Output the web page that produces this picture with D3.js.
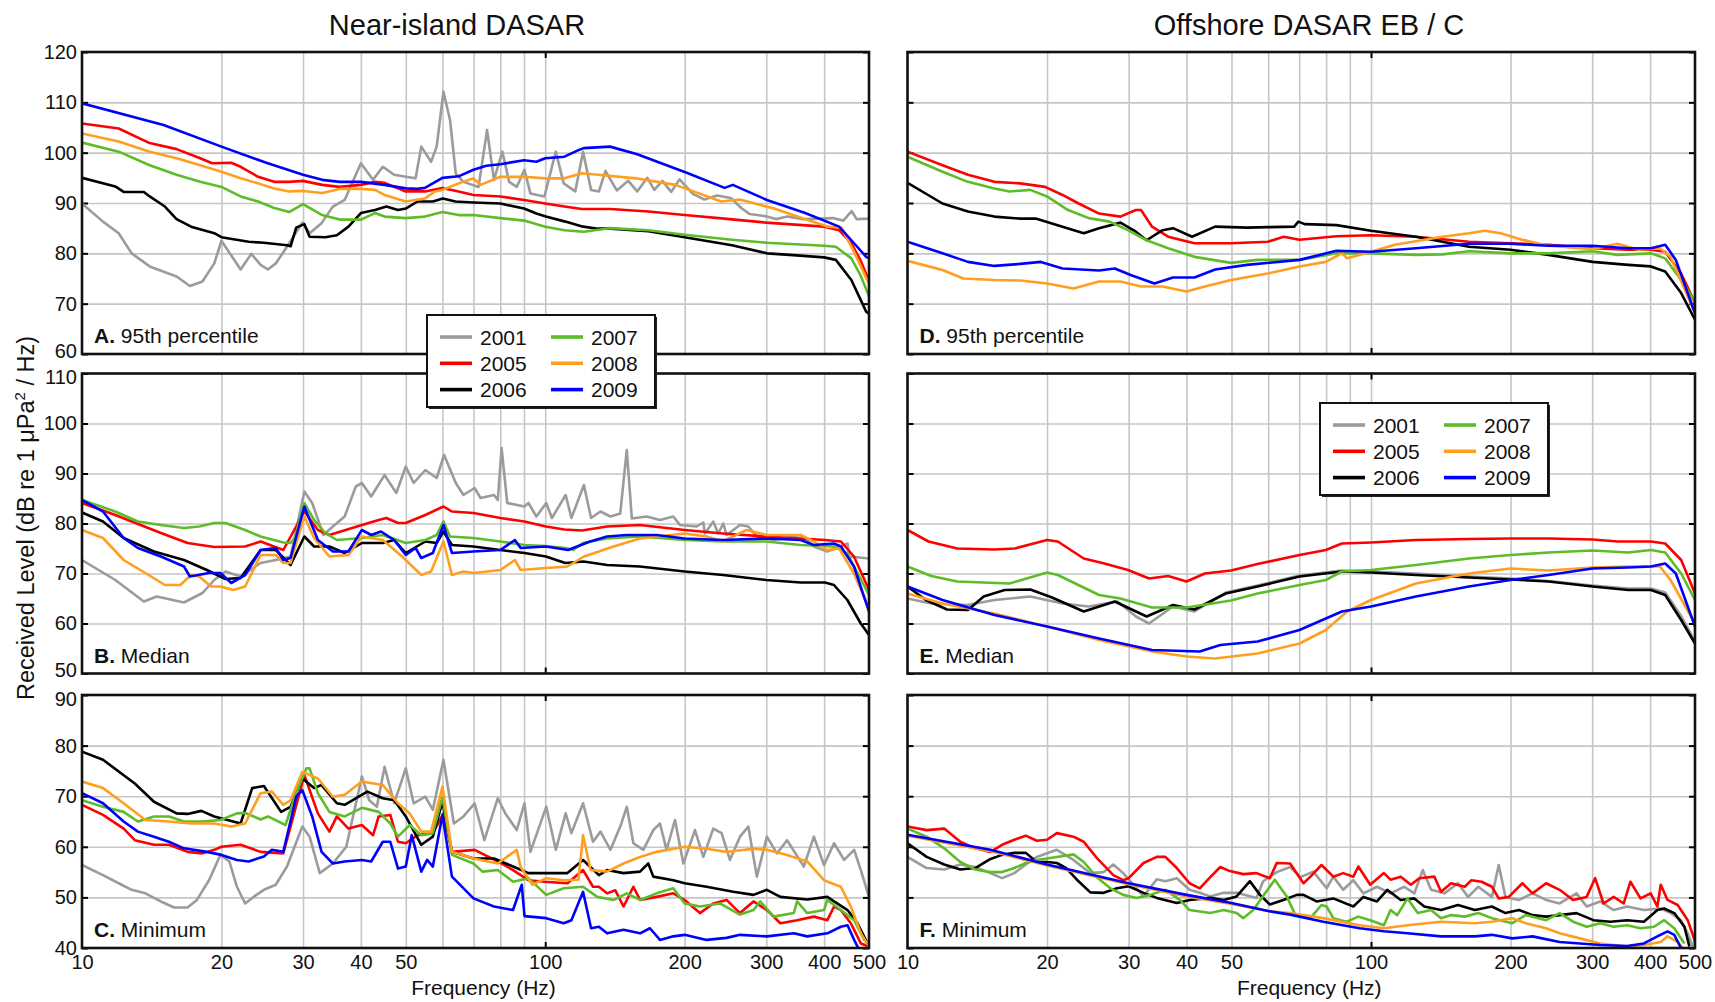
<!DOCTYPE html>
<html>
<head>
<meta charset="utf-8">
<script src="https://cdn.jsdelivr.net/npm/d3@7"></script>
<style>
body { margin: 0; background: #fff; }
svg { display: block; font-family: "Liberation Sans", Arial, sans-serif; }
</style>
</head>
<body>
<svg id="chart" width="1715" height="1002"></svg>
<script>
// ---- data: [frequency Hz, received level dB] ----

// A. near-island, 95th percentile
var A_2001 = [[10,89.9],[11.1,86.3],[12,84],[12.8,80],[14,77.4],[16,75.4],[17.1,73.5],[18.2,74.4],[19.3,78],[20,82.5],[22,76.8],[23.2,79.9],[24.3,77.7],[25.2,76.8],[26.2,78],[27.7,81.3],[29.9,86.1],[31,84],[32.9,86],[34.8,89.3],[36.9,90.6],[40,97.9],[42.5,94.6],[44.6,97.2],[47.2,95.6],[50,95.2],[52.5,94.9],[54,101.2],[56.7,98.2],[58.3,101.2],[60.3,112.1],[62.3,106.5],[64.1,95.9],[66.6,94.2],[71.8,93.2],[74.9,104.5],[77.5,94.6],[80.8,100.2],[83.6,94.2],[86.8,93.2],[90.2,96.6],[92.9,91.9],[99.6,91.3],[105.4,100.2],[109.6,93.9],[116.1,92.3],[120.7,100.2],[125.6,92.6],[130.6,92.3],[134.9,96.4],[142.7,92.5],[151.1,94.4],[158,92.3],[166.1,95],[172,92.6],[179.1,94.4],[187,92.2],[195,94.7],[208.3,91.8],[220.5,90.7],[235,91.5],[251.5,91],[265,89],[276.4,87.8],[298,87.4],[315,86.8],[333.3,87.3],[360,86.8],[394.6,86.9],[417.7,87],[440,86.5],[458.6,88.4],[470,86.8],[500,86.9]];
var A_2005 = [[10,105.8],[12,104.8],[14,101.9],[16,100.7],[18,98.9],[19.1,97.9],[21,98],[22,97.2],[24,95.2],[26,94.2],[28,94.2],[30,94.4],[33,93.6],[36,93.2],[40,93.6],[42.9,94.2],[45,94],[50,92.3],[55,92.3],[60,93],[65,92.3],[70,91.6],[80,91.3],[90,90.6],[100,89.9],[110,89.3],[120,88.8],[138,88.8],[167,88.3],[200,87.6],[250,86.8],[300,86.1],[400,85.3],[431,84.6],[458,82],[480,78.5],[500,74.5]];
var A_2006 = [[10,95],[11.8,93.3],[12.3,92.2],[13.6,92.2],[14,91.3],[15.1,89.3],[16,86.8],[17.2,85.3],[19.3,84],[20,83.2],[22.9,82.3],[24.7,82.1],[27.7,81.6],[28.2,81.4],[29,85.1],[30.2,85.8],[31,83.3],[33.5,83.2],[35.5,83.6],[37.6,85.3],[40,88],[42.9,88.6],[45.4,89.3],[48.1,88.6],[50,88.9],[53,90.3],[57.2,90.3],[60.1,90.9],[64,90.3],[70,90.1],[80,89.9],[90,88.9],[95.7,87.9],[100.3,87.3],[110.5,86.3],[120.7,85.3],[130,84.9],[138,84.9],[167,84.4],[200,83.2],[253,81.6],[301,80],[337,79.7],[400,79.2],[424,78.7],[458,74.7],[480,70.7],[493,68.4],[500,68]];
var A_2007 = [[10,102],[12,100.2],[14,97.5],[16,95.6],[18,94.2],[20,93.2],[22,91.3],[24,90.3],[26,89],[28,88.2],[30,89.8],[33,87.6],[36,86.7],[40,86.7],[42.9,88],[45,87.3],[50,87],[55,87.3],[60,88.2],[65,87.6],[70,87.6],[80,87],[90,86.5],[100,85.3],[110,84.6],[121,84.3],[138,85],[167,84.6],[200,83.7],[253,82.7],[301,82.1],[400,81.5],[424,81.3],[458,79],[480,75.5],[500,71.5]];
var A_2008 = [[10,103.8],[12,102.2],[14,100.2],[16,98.9],[18,97.5],[20,96.2],[22,94.9],[24,93.9],[26,92.9],[28,92.3],[30,92.4],[33,92],[36,92.8],[40,92.8],[42.9,92.6],[45,91.6],[50,90.3],[55,90.9],[57.8,92.3],[60,92.6],[65,93.9],[70,94.9],[72.5,93.6],[80,95.2],[90,95.2],[100,94.9],[110,94.9],[120,95.9],[130,95.6],[157,94.9],[191,93.6],[240,90.3],[263,90.7],[312,88.9],[350,87.3],[408,85.3],[436,85.1],[466,80],[493,75.1],[500,74]];
var A_2009 = [[10,109.8],[15,105.5],[20,101.2],[25,98],[30,95.6],[33,94.6],[36,94.2],[40,94.2],[45,93.6],[50,92.9],[53,92.8],[55,93],[60,95],[65,95.3],[70,96.6],[74.6,97.4],[80,97.7],[90,98.5],[95.7,98.2],[100,98.9],[110,99.2],[118,100.5],[121,100.9],[138,101.2],[158,99.7],[202,96],[244,93],[254,93.6],[301,90.6],[364,88],[431,85.3],[458,82.6],[493,79.3],[500,79]];

// B. near-island, median
var B_2001 = [[10,72.7],[11.8,68.7],[13.6,64.4],[14.5,65.4],[16.6,64.2],[18.2,66.1],[19.3,68.7],[20.4,70.4],[22,69.4],[24.3,72.1],[26.2,72.7],[28.2,73.4],[30.2,86.4],[31.4,84.1],[33.2,77.7],[34.8,79.4],[36.9,81.4],[39,87.4],[40.2,88.1],[42.1,85.4],[45,89.7],[47.7,86.1],[50,91.4],[52,88.1],[55.1,90.7],[58.3,89.1],[60.5,93.7],[64.1,88.1],[66.6,85.7],[70.4,87.1],[72.5,85.1],[77.5,85.7],[79,84.7],[80.5,95.1],[82.8,84.1],[90.2,83.4],[92,84.1],[95.7,81.4],[100.5,84.1],[103.4,81.1],[110.7,85.7],[113.9,81.1],[121.2,87.7],[125.6,81.1],[131.6,82.4],[138.3,81.4],[145.2,82],[150,94.7],[153.8,81],[165.6,81.4],[176.9,80.7],[189,81.4],[195.4,79.7],[212.2,79.4],[219.4,80.2],[221.2,78],[230.6,80.4],[236.3,78],[242.3,80],[246.3,77.7],[263.3,79.7],[274.5,79.4],[286.3,77.4],[311.2,76.7],[355.7,77.7],[380.2,75.4],[406.5,74.4],[449.4,76],[453.1,73.4],[500,73]];
var B_2005 = [[10,84.1],[11.8,81.7],[14.8,78.1],[16.9,76.1],[19.3,75.3],[22.5,75.4],[24.3,76.4],[27.2,74.7],[30.2,82.4],[32.3,78.7],[34.2,77.7],[40.2,79.7],[43.7,80.7],[45.4,81.1],[48.1,80.1],[50,80.1],[55.1,81.7],[60.3,83.4],[62.9,82.4],[70,82.1],[80,81.1],[90.2,80.4],[100.3,79.4],[110,78.8],[120,78.6],[136,79.4],[160,79.7],[200,78.7],[242,78],[300,77.4],[356,77],[402,76.7],[435,76.4],[464,73.4],[500,66.7]];
var B_2006 = [[10,82.2],[11.1,80.4],[12.3,77.1],[14.3,74.4],[16.6,72.7],[18.6,70.7],[20.4,68.9],[22,69.1],[24.3,74.7],[26.2,74.7],[28.2,71.7],[30.2,77.4],[31.7,75.4],[34.2,75.4],[36.9,74.1],[40.2,76.1],[44.6,76.1],[47.2,76.7],[50,74.1],[55.1,76.4],[58.3,76.1],[60.3,78.4],[62.9,75.7],[70,75.4],[80,74.7],[90.2,74.1],[100.3,73.4],[110.5,72.1],[121,72.4],[136,71.7],[160,71.4],[200,70.4],[242,69.7],[300,68.7],[356,68.2],[402,68.2],[420,67.7],[449,64.7],[480,60],[500,57.7]];
var B_2007 = [[10,84.7],[11.8,82.4],[13.2,80.4],[14.8,79.7],[16.6,79.1],[17.9,79.4],[19.3,80.1],[20.4,80.1],[22.5,78.7],[24.3,77.4],[27.2,76.2],[28.2,76.1],[28.8,77.1],[30.2,84.1],[31.7,80.7],[33.5,78.1],[35.5,76.7],[40.2,77.1],[44.6,77.7],[50,76.1],[55.1,76.7],[58.3,77.7],[60.3,80.4],[62.3,77.4],[70,77.1],[80,76.4],[90.2,75.7],[100.3,75.5],[110.5,75.1],[115,74.7],[120.7,76.1],[136,77],[160,77.4],[200,76.7],[242,76.4],[300,76.4],[356,75.7],[420,75.4],[449,74],[500,65.7]];
var B_2008 = [[10,78.7],[11.1,77.1],[12.3,72.7],[13.7,70.1],[15.1,67.7],[16.3,67.7],[17.2,69.7],[17.9,69.4],[19,67.4],[19.9,67.4],[21.2,66.7],[22.5,67.4],[24.3,73.7],[26.2,73.7],[27.2,72.1],[28.2,72.1],[30.2,81.4],[31.7,77.1],[34.2,73.4],[37.6,73.7],[40.2,77.4],[44.6,76.7],[49.1,73.4],[54,69.7],[56.7,70.4],[60.3,76.4],[62.9,69.7],[66.6,70.4],[70,70.1],[80,70.7],[86,72.7],[88.5,70.7],[100.3,71.1],[111.7,71.4],[121.2,73.4],[130.6,74.4],[136,75],[160,77],[200,78],[223,77.4],[242,76.4],[272,78.7],[301,77.7],[356,77.7],[380,76.4],[406,74.7],[431,75],[464,70],[500,63]];
var B_2009 = [[10,84.7],[11.1,82.4],[12.3,77.1],[13.2,75.1],[14.8,73.4],[16.6,71.4],[17.1,69.4],[18.8,70.1],[19.9,70.1],[21,68.1],[22.5,69.7],[24.3,74.7],[26.2,75.1],[27.2,72.7],[28.2,73.1],[30.2,83.4],[32.3,76.7],[34.8,74.4],[37.6,74.4],[40.2,78.7],[42.1,77.7],[44.2,78.4],[47.2,76.7],[50,73.7],[52.5,75.1],[54,73.1],[57.2,74.1],[60.3,79.7],[62.9,74.1],[70,74.4],[80,74.7],[86,76.7],[88.5,75.1],[100.3,75.4],[112,74.7],[125,76.4],[136,77.4],[150,77.7],[174,77.7],[200,77],[242,76.7],[300,77],[356,76.7],[380,75.7],[420,76],[435,75.4],[464,71.4],[500,62.4]];

// C. near-island, minimum
var C_2001 = [[10,56.4],[11.1,54.4],[12,52.8],[12.8,51.5],[13.7,50.8],[14.8,49.2],[15.8,48],[16.9,48],[17.7,49.5],[18.8,53.4],[19.9,58.4],[20.8,57.1],[21.6,52.1],[22.5,48.8],[23.8,50.5],[24.7,51.5],[26.2,52.5],[27.7,56.1],[29.9,64],[31,62],[32.6,54.8],[34.8,56.7],[37.2,60],[40.2,73.9],[41.7,69.2],[43.3,67.9],[45,75.8],[47.2,68.6],[50,75.5],[52,68.6],[55.1,69.9],[57.2,67.3],[60.3,77.2],[63.5,64.6],[66.6,66],[70.4,68.6],[73.9,61.3],[79,69.6],[82,66.6],[86.8,63.3],[90.2,68.6],[92.9,59],[100.5,67.9],[105.4,59.4],[110.7,66.6],[113.9,62.7],[120.7,68.6],[126.8,61],[131.6,63],[138.3,59.4],[145.2,64],[150,67.9],[155,60.7],[162.9,59.4],[171.1,63.3],[176.9,64.6],[182.8,59.4],[190.6,65.3],[198.7,56.7],[210.5,63.3],[219.4,58],[230.6,63.6],[240.3,62.7],[250.4,57.4],[263.3,62],[274.5,64],[286.3,54.1],[301,62],[316.4,58.7],[332.7,61.3],[361.6,56.1],[380.2,62],[399.8,56.4],[420.3,60.7],[442,57.4],[464.4,59.4],[480.1,55.4],[500,50.1]];
var C_2005 = [[10,68.3],[11.1,66.3],[12.3,63.6],[13,61.3],[14.3,60.4],[15.4,60.4],[16.9,59],[18.2,58.7],[19.3,59.4],[20,60],[22,60.4],[24.3,59],[27.2,58.7],[28.2,64],[30.2,74.2],[32.3,66.6],[34.2,63],[35.5,66],[37.6,63.6],[40.2,64.3],[42.5,62.3],[43.7,66],[46.3,66.3],[48.1,61],[50,60.7],[53,62.3],[57.2,62.7],[60.3,66.6],[62.9,59],[70.4,59.4],[79,57.1],[85.2,55.4],[92,53.4],[99.6,53.1],[111.7,52.8],[120.7,55.4],[126.8,52.1],[130.5,52.1],[136,50.8],[141.7,51.4],[147.6,48.2],[155,52.1],[160.2,49.5],[174,50.1],[189,50.8],[200,49.5],[215.8,46.9],[230.6,48.8],[246.3,49.5],[263.3,46.9],[281.6,49.2],[301,47.5],[321.8,44.9],[349.8,45.5],[380.2,46.2],[406.5,45.5],[420.3,48.2],[434.6,47.5],[456.8,44.9],[480.1,40.9],[500,40.3]];
var C_2006 = [[10,78.8],[11.1,77.2],[13,72.5],[14.3,68.9],[16,66.6],[16.9,66.5],[18.1,67.1],[19.3,66],[20.8,65.2],[22,64.6],[23.3,71.6],[24.7,72],[26.9,66.9],[28.2,67.9],[29.9,73.5],[31.7,71.6],[32.9,72.2],[35.5,68.6],[36.9,68.3],[41.3,70.9],[44.6,69.6],[47.2,69.2],[50,66],[54,60.4],[57.2,62],[60,68.9],[62.9,59],[70,57.7],[77.5,57.7],[85.2,56.1],[92,54.8],[99.6,54.8],[111.7,54.8],[120.7,57.4],[130.6,54.4],[136,55.4],[147.6,54.8],[160.2,55.1],[166.9,56.7],[171.1,54.1],[189,53.4],[200,52.8],[223,52.1],[254.6,51.1],[281.6,50.5],[301,51.5],[321.8,50.1],[367.7,49.6],[406.5,50.1],[420.3,49.2],[449.4,47.5],[472.2,44.9],[500,40.3]];
var C_2007 = [[10,69.2],[11.1,67.9],[12.3,66.9],[13.2,65],[14.3,66],[15.4,66],[16.6,65],[18.2,65],[19.9,65.3],[21.6,66.6],[22.5,66.7],[24.3,65.4],[25.2,66],[27.5,64.3],[28.8,69.9],[30.5,75.5],[31,75.5],[32.3,70.6],[34.2,66.9],[36.9,66],[40.2,67.7],[43.7,66.9],[46.3,64.6],[48.1,62],[51,64.3],[54,62.3],[57.2,62.7],[60,69.9],[62.9,58.4],[70,56.7],[73.2,55.1],[79,55.4],[85.2,53.1],[92,53.8],[100.5,50.5],[109.6,51.8],[120.7,52.1],[129.5,50.1],[140.6,49.5],[150,50.8],[160.2,49.5],[174,50.8],[189,51.8],[200,48.8],[215.8,48.2],[238.3,48.8],[263.3,46.6],[281.6,47.5],[291.1,49.2],[311.2,46.2],[344,46.9],[349.8,49.2],[367.7,46.9],[399.8,47.5],[406.5,49.5],[434.6,47.5],[464.4,45.5],[488.2,41.6],[500,40.6]];
var C_2008 = [[10,72.9],[11.1,71.6],[12.3,68.6],[13.7,65.3],[15.4,65],[17.2,64.6],[19.3,64.6],[21,64],[22.5,64.6],[24.3,70.6],[25.7,70.9],[27.2,68.3],[28.2,69.2],[29.9,74.8],[32.3,73.5],[34.8,69.9],[36.9,70.3],[40.2,72.9],[44.6,72.2],[48.1,68.6],[51,66.6],[54,63],[56.7,63],[60,71.9],[62.9,59],[70,57.7],[79,56.7],[86.8,59.4],[88.5,56],[93.8,52.5],[100.5,53.8],[109.6,53.4],[118,53.5],[120.7,62.3],[125.3,55.4],[136,55.1],[147.6,56.7],[160.2,58],[174,59],[200,60],[223,59.6],[246.3,59],[281.6,59.6],[301,59.4],[332.7,58.4],[367.7,57.1],[399.8,53.4],[434.6,52.1],[456.8,48.2],[480.1,42.9],[500,40.3]];
var C_2009 = [[10,70.6],[11.1,68.6],[12.3,65],[13.2,63],[14.3,62],[15.4,61],[16.6,59.7],[18.6,59],[20,58.4],[21.6,57.4],[22.9,57.1],[24.7,58.1],[25.7,59.4],[27.2,59],[29,69.9],[29.9,71.2],[31.4,66],[32.9,59],[34.8,56.7],[36.9,57.1],[40.2,57.4],[42.1,57.1],[44.6,61],[46.3,61],[48.1,55.7],[50,56.1],[51.5,62.3],[54,55.1],[55.6,57.4],[57.2,56.1],[60,66.3],[62.9,54.1],[70,49.8],[77.5,48.2],[85.2,47.5],[89,52.5],[90.2,46.3],[100.5,45.9],[109.6,44.9],[113.9,45.5],[120.7,51.1],[125.6,43.9],[130.6,44.2],[136,42.9],[147.6,43.6],[160.2,42.9],[168.3,43.9],[176.9,41.6],[189,42.3],[200,42.6],[223,41.6],[246.3,42],[263.3,42.6],[301,42.3],[344,42.9],[367.7,42.3],[406.5,42.9],[434.6,44.2],[449.4,44.5],[464.4,41.6],[476.2,39.6]];

// D. offshore, 95th percentile (no 2001 record)
var D_2005 = [[10,100.2],[11.9,97.5],[13.5,95.6],[15.4,94.2],[17.5,93.9],[19.8,93.2],[21.6,91.6],[23.4,89.9],[25.9,87.9],[28.8,87.3],[31.1,88.6],[31.9,88.6],[33.7,85.3],[36.5,83.3],[41.6,82],[49.9,82],[59.9,82.3],[64.8,83.3],[70.1,82.7],[84.2,83.4],[100,83.6],[125,83.3],[162.7,82.3],[200,82],[241.5,81.7],[300.6,81],[358.7,80.7],[401.6,80.7],[431.2,80.3],[466.8,76],[500,70.1]];
var D_2006 = [[10,94],[11.9,89.9],[13.5,88.3],[15.4,87.3],[17.5,86.9],[18.9,86.9],[21.6,85.3],[24,84],[25.9,85],[28.8,86.1],[31.1,84.3],[32.8,82.6],[35.5,84.6],[37.4,85],[41.1,83.3],[46.1,85.3],[54,85.1],[59.9,85.2],[68.3,85.3],[69.7,86.3],[71.9,85.8],[84.2,85.6],[100,84.5],[125,83.3],[162.7,81.3],[200,80.7],[241.5,79.7],[300.6,78.3],[358.7,77.7],[401.6,77.4],[431.2,76.4],[466.8,72.1],[500,66.8]];
var D_2007 = [[10,99.2],[11.9,96.2],[13.5,94.2],[15.4,92.9],[16.6,92.3],[18.4,92.6],[20,91.3],[22.2,88.6],[24.6,87],[27.3,86.3],[29.9,84.6],[32.8,82.6],[36.5,81],[41.6,79.3],[49.9,78.1],[56.9,78.7],[70.1,78.7],[84.2,80],[100,80],[125,79.7],[142.6,79.8],[162.7,80.4],[200,80],[241.5,80],[300.6,80.4],[340.3,79.7],[401.6,80],[431.2,79],[466.8,74.7],[500,70.4]];
var D_2008 = [[10,78.5],[11.9,76.7],[13.2,75],[15.4,74.7],[17.5,74.6],[20,74],[22.8,73],[25.9,74.4],[28.8,74.4],[31.9,73.4],[35.5,73.4],[40,72.4],[43.8,73.4],[49.9,74.7],[59.9,76],[70.1,77.4],[79.9,78.3],[86.5,80],[88.8,79],[100,80.3],[112.6,81.7],[142.6,83.3],[162.7,84],[176,84.5],[190.4,84],[211.7,82.7],[241.5,81.5],[300.6,80.8],[340.3,81.9],[378.1,80.7],[420.1,81],[442.8,79.3],[500,68.1]];
var D_2009 = [[10,82.3],[11.9,80],[13.5,78.3],[15.4,77.5],[17.5,77.9],[19.4,78.3],[21.6,77],[25.9,76.6],[28,77],[30.3,75.7],[34.1,74],[37.4,75.2],[41.6,75.2],[46.1,76.8],[54,77.7],[70.1,78.7],[84.2,80.5],[100,80.3],[125,81],[162.7,81.9],[200,81.9],[241.5,81.5],[300.6,81.5],[358.7,81],[401.6,81],[431.2,81.7],[454.6,78.7],[500,68.1]];

// E. offshore, median
var E_2001 = [[10,65],[11.25,64],[13.5,63.7],[15.4,64.7],[18.4,65.4],[21.6,64],[24.6,63.4],[28.4,64.4],[31.1,61.4],[33.2,60],[37.4,63.4],[41.6,62.4],[48.6,66.2],[56.9,67.6],[70.1,69.6],[86.5,70.6],[100,70.4],[125,70],[162.7,69.4],[200,69],[241.5,68.5],[300.6,67.6],[358.7,67],[401.6,67],[431.2,66.2],[466.8,61.5],[500,56.4]];
var E_2005 = [[10,78.7],[11.1,76.4],[12.8,75],[15.4,74.8],[17.05,75],[20,76.7],[21.1,76.4],[24,73],[26.6,72],[29.9,70.7],[33.2,69],[36.5,69.5],[40,68.4],[43.8,70],[49.9,70.6],[56.9,71.9],[70.1,73.7],[79.9,74.7],[86.5,76],[100,76.2],[125,76.7],[162.7,76.9],[200,77],[241.5,77],[300.6,76.8],[340.3,76.4],[401.6,76.4],[431.2,76],[466.8,72.7],[500,66]];
var E_2006 = [[10,67.4],[10.96,64.7],[12.17,62.8],[13.5,62.7],[14.6,65.4],[16.2,66.7],[18.4,66.8],[20.5,65.2],[24,62.4],[28,64.4],[32.8,61.4],[37.4,63.7],[41.6,62.8],[48.6,66],[56.9,67.4],[70.1,69.4],[86.5,70.4],[100,70.2],[125,69.7],[162.7,69.2],[200,68.8],[241.5,68.4],[300.6,67.4],[358.7,66.7],[401.6,66.7],[431.2,65.7],[466.8,60.7],[500,56]];
var E_2007 = [[10,71.4],[11.25,69.5],[12.8,68.4],[16.6,68],[20,70.2],[21.1,69.7],[25.9,65.7],[28.8,65],[33.7,63.2],[40,63.2],[49.9,64.6],[56.9,66],[70.1,67.7],[79.9,68.7],[86.5,70.4],[100,70.7],[125,71.7],[162.7,73],[200,73.7],[241.5,74.2],[300.6,74.6],[358.7,74.2],[401.6,74.7],[431.2,74.2],[466.8,70],[500,64.7]];
var E_2008 = [[10,66],[11.9,64],[15.4,62],[20,59.4],[25.9,56.7],[33.7,54.4],[40,53.4],[46.1,53],[56.9,54],[70.1,56],[79.9,58.7],[88.8,62.4],[100,64.7],[125,68],[162.7,70],[200,71],[241.5,70.6],[300.6,71.2],[358.7,71.4],[420.1,71.4],[442.8,68.7],[500,60]];
var E_2009 = [[10,67.4],[11.9,64.7],[15.4,61.7],[20,59.4],[25.9,57],[33.7,54.7],[42.7,54.4],[47.3,55.7],[56.9,56.4],[70.1,58.7],[86.5,62.4],[100,63.4],[125,65.4],[162.7,67.4],[200,68.7],[241.5,69.7],[300.6,71],[358.7,71.2],[401.6,71.4],[431.2,72],[454.6,70],[500,59.4]];

// F. offshore, minimum
var F_2001 = [[10,58],[11,55.8],[12,55.5],[13,56.5],[14,56],[15.1,54.8],[16,53.8],[17,54.8],[18,56.5],[19,58],[21,59.4],[22.8,57.4],[24.8,54.8],[26.5,55],[27.8,56.5],[29.2,54.8],[32.3,50.2],[34.5,53.6],[36,53.2],[38.1,53.8],[40.6,51.5],[42.7,50.9],[45,50.2],[48.1,50.9],[51.3,50.9],[56.6,49.9],[58.5,53.2],[62.6,55],[66.9,56],[70.4,54],[75.1,55.1],[80.2,51.8],[82.9,54.1],[87.1,51.5],[91.6,53.4],[96.3,50.8],[103,52.1],[110.2,50.8],[117.9,52.1],[124,50.8],[129.3,55.4],[134.8,51.5],[144,50.8],[154,52.8],[162,50.1],[170.4,52.1],[182.3,50.1],[188.6,56.4],[195,50.1],[208.6,49.5],[223.1,50.8],[238.6,49.5],[255.2,48.8],[277.5,50.8],[291.9,48.2],[312.2,49.2],[333.8,47.5],[356.8,48.2],[387.9,47.5],[421.8,47.8],[443.6,46.9],[466.4,45.5],[482.3,42.9],[494.6,40.3]];
var F_2005 = [[10,64],[11,63.3],[12,63.6],[13,61],[14,59.7],[15.1,59],[16,60.4],[17,61.4],[18,62.2],[19,61.2],[20,61.4],[21,62.7],[22.8,62],[24,61],[25.6,57.8],[27.8,54.4],[29.2,53.4],[30,53.8],[32.3,56.8],[34.5,58],[36,58],[38.1,55.8],[40.6,52.8],[42.7,51.8],[45,54],[47.3,56],[49.6,55.2],[53,54.6],[56.6,54.8],[60.5,53.8],[62.6,56.8],[66.9,56.7],[71.5,52.8],[74,54.1],[78.2,56.4],[82.9,54.1],[87.1,54.8],[91.6,54.1],[93.9,56.1],[99.6,52.5],[106.6,54.8],[110.2,53.5],[115.9,54.1],[121.9,52.5],[127.1,53.8],[137,54.1],[141.6,51.1],[148.9,52.8],[159.3,52.1],[164.7,53.4],[173.3,53.1],[182.3,52.1],[188.6,49.8],[198.3,50.1],[212.1,52.8],[223.1,50.8],[238.6,52.8],[255.2,51.5],[272.9,49.5],[291.9,50.1],[304.4,53.8],[317.4,48.8],[333.8,50.1],[350.9,48.8],[362.8,53.1],[381.4,49.8],[401.1,50.8],[414.8,48.2],[421.8,52.5],[436.2,49.5],[458.7,48.5],[482.3,45.5],[498.7,41.6],[500,40.9]];
var F_2006 = [[10,60.7],[11,58],[12,56.5],[13,55.5],[14,55.8],[15.1,57.6],[16,58.4],[17,58.8],[18,58.8],[19,57],[20,57],[21,56.8],[22,55.8],[23.2,53.5],[24.8,51],[26.5,50.9],[28.3,51.8],[30,52.2],[32.3,50.9],[34.5,49.9],[38.1,48.9],[40.6,49.5],[45,49.9],[48.1,49.5],[51.3,50.2],[54.8,53.2],[57.6,50.5],[60.5,48.6],[64.7,49.5],[69.2,50.5],[71.5,50.5],[76.3,49.2],[82.9,49.8],[91.6,48.2],[96.3,50.1],[103,49.2],[108.4,51.5],[115.9,49.5],[124,49.8],[130.3,48.2],[141.6,47.5],[154,48.5],[167.5,47.5],[182.3,48.2],[195,46.9],[208.6,47.5],[223.1,46.5],[238.6,46.2],[255.2,46.5],[277.5,46.9],[301.9,45.5],[328.3,45.2],[356.8,45.5],[387.9,45.2],[414.8,47.5],[428.9,47.8],[451.1,46.9],[474.3,44.2],[486.3,40.3]];
var F_2007 = [[10,63.6],[11,62],[12,59.7],[13,57],[14,55.5],[15.1,55],[16,55],[17,55.8],[18,56.8],[19,57.4],[21,58],[22.8,58.5],[24,57],[25.6,54],[27.4,51.8],[29.2,50.5],[31.2,49.9],[33.4,50.5],[36,51.5],[38.7,49.5],[40.6,47.5],[45,46.9],[48.1,47.5],[51.3,46.9],[53,45.9],[55.7,47.5],[62,53.5],[65.8,50.2],[68.6,46.6],[71.5,46.2],[74,45.9],[78.2,48.5],[80.2,48.2],[82.9,45.9],[88.5,45.2],[93.9,46.2],[99.6,45.5],[106.6,44.5],[110.2,47.5],[113.9,46.5],[119.9,49.8],[126.1,46.9],[134.8,47.5],[141.6,45.9],[148.9,46.5],[159.3,46.2],[170.4,46.9],[182.3,45.9],[201.7,44.9],[215.7,46.5],[238.6,45.5],[255.2,46.9],[272.9,45.2],[291.9,44.2],[312.2,44.9],[333.8,44.2],[356.8,44.5],[381.4,43.9],[407.9,44.2],[428.9,45.5],[451.1,43.9],[474.3,40.9]];
var F_2008 = [[10,62.2],[15,59.2],[20,56.3],[30,52.6],[40,50.2],[50,48.7],[60,47.3],[66.9,46.9],[78.9,45.9],[94.5,44.5],[106.6,43.9],[119.9,44.5],[141.6,45.2],[167.5,44.9],[182.3,45.2],[201.7,45.9],[215.7,44.9],[238.6,43.9],[255.2,42.9],[282.2,41.9],[312.2,40.9],[356.8,40.3],[387.9,40.6],[421.8,41.2],[436.2,42.3],[458.7,41.2],[470.3,40]];
var F_2009 = [[10,62.4],[15.1,59.4],[20,56.5],[30,52.8],[40,50.5],[50,48.9],[60,47.3],[66.9,46.6],[78.9,45.2],[94.5,43.9],[106.6,43.3],[119.9,42.9],[141.6,42.3],[167.5,42.3],[182.3,42.6],[201.7,41.9],[223.1,42.3],[255.2,41.2],[282.2,40.9],[312.2,40.6],[356.8,40.4],[387.9,40.9],[414.8,42.3],[436.2,43.3],[451.1,42.6],[466.4,40]];

// axes and labels
var YEARS = ['2001', '2005', '2006', '2007', '2008', '2009'];
var YEAR_COLORS = ['#9b9b9b', '#ff0000', '#000000', '#5ebc29', '#ff9e1f', '#0000ff'];
var X_TICKS = [10, 20, 30, 40, 50, 100, 200, 300, 400, 500];
var X_GRID = [20, 30, 40, 50, 60, 70, 80, 90, 100, 200, 300, 400];
var COL_TITLES = ['Near-island DASAR', 'Offshore DASAR EB / C'];

var panels = [
	{ letter: 'A', name: '95th percentile', col: 0, row: 0, y: [60, 120], series: [A_2001, A_2005, A_2006, A_2007, A_2008, A_2009] },
	{ letter: 'B', name: 'Median', col: 0, row: 1, y: [50, 110], series: [B_2001, B_2005, B_2006, B_2007, B_2008, B_2009] },
	{ letter: 'C', name: 'Minimum', col: 0, row: 2, y: [40, 90], series: [C_2001, C_2005, C_2006, C_2007, C_2008, C_2009] },
	{ letter: 'D', name: '95th percentile', col: 1, row: 0, y: [60, 120], series: [null, D_2005, D_2006, D_2007, D_2008, D_2009] },
	{ letter: 'E', name: 'Median', col: 1, row: 1, y: [50, 110], series: [E_2001, E_2005, E_2006, E_2007, E_2008, E_2009] },
	{ letter: 'F', name: 'Minimum', col: 1, row: 2, y: [40, 90], series: [F_2001, F_2005, F_2006, F_2007, F_2008, F_2009] }
];

// ---- layout ----
var COL_X = [[82, 869], [907.5, 1695]];
var ROW_Y = [[52, 354], [373.5, 673.5], [695, 948]];
var TITLE_X = [457, 1309];

var svg = d3.select('#chart');
var defs = svg.append('defs');

panels.forEach(function(p, i)
{
	var x0 = COL_X[p.col][0], x1 = COL_X[p.col][1];
	var y0 = ROW_Y[p.row][0], y1 = ROW_Y[p.row][1];
	var w = x1 - x0, h = y1 - y0;

	var x = d3.scaleLog().domain([10, 500]).range([x0, x1]);
	var y = d3.scaleLinear().domain(p.y).range([y1, y0]);
	var yTicks = d3.range(p.y[0], p.y[1] + 1, 10);

	var g = svg.append('g').attr('id', 'panel-' + p.letter);

	defs.append('clipPath').attr('id', 'clip-' + i)
		.append('rect').attr('x', x0).attr('y', y0).attr('width', w).attr('height', h);

	// grid
	g.append('g')
		.attr('transform', 'translate(0,' + y1 + ')')
		.call(d3.axisBottom(x).tickValues(X_GRID).tickSize(-h).tickFormat(''))
		.call(function(a) { a.select('.domain').remove(); a.selectAll('line').attr('stroke', '#c6c6c6').attr('stroke-width', 1.6); });
	g.append('g')
		.attr('transform', 'translate(' + x0 + ',0)')
		.call(d3.axisLeft(y).tickValues(yTicks.slice(1, -1)).tickSize(-w).tickFormat(''))
		.call(function(a) { a.select('.domain').remove(); a.selectAll('line').attr('stroke', '#c6c6c6').attr('stroke-width', 1.6); });

	// inner tick marks
	var tickStyle = function(a) { a.select('.domain').remove(); a.selectAll('line').attr('stroke', '#000').attr('stroke-width', 2); };
	g.append('g').attr('transform', 'translate(' + x0 + ',0)')
		.call(d3.axisLeft(y).tickValues(yTicks).tickSize(-6).tickFormat('')).call(tickStyle);
	g.append('g').attr('transform', 'translate(' + x1 + ',0)')
		.call(d3.axisRight(y).tickValues(yTicks).tickSize(-6).tickFormat('')).call(tickStyle);
	g.append('g').attr('transform', 'translate(0,' + y0 + ')')
		.call(d3.axisTop(x).tickValues([100]).tickSize(-6).tickFormat('')).call(tickStyle);
	g.append('g').attr('transform', 'translate(0,' + y1 + ')')
		.call(d3.axisBottom(x).tickValues([100]).tickSize(-6).tickFormat('')).call(tickStyle);

	// y labels on the left column only; the shared 60/110 pair is nudged apart
	if(p.col == 0)
	{
		g.append('g').attr('transform', 'translate(' + (x0 - 5) + ',0)')
			.call(d3.axisLeft(y).tickValues(yTicks).tickSize(0).tickPadding(0))
			.call(function(a)
			{
				a.select('.domain').remove();
				a.selectAll('text').attr('font-size', 20).attr('fill', '#111').attr('font-family', null)
					.attr('dy', function(d)
					{
						if(d == p.y[0] && p.row < 2) return '0.15em';
						if(d == p.y[1] && p.row > 0) return '0.5em';
						return '0.32em';
					});
			});
	}

	// x labels on the bottom row only
	if(p.row == 2)
	{
		g.append('g').attr('transform', 'translate(0,' + (y1 + 5) + ')')
			.call(d3.axisBottom(x).tickValues(X_TICKS).tickSize(0).tickPadding(2).tickFormat(d3.format('d')))
			.call(function(a) { a.select('.domain').remove(); a.selectAll('text').attr('font-size', 20).attr('fill', '#111').attr('font-family', null); });

		g.append('text')
			.attr('x', (x0 + x1) / 2 + 8).attr('y', 995)
			.attr('text-anchor', 'middle').attr('font-size', 21).attr('fill', '#111')
			.text('Frequency (Hz)');
	}

	// data lines
	var line = d3.line()
		.x(function(d) { return x(d[0]); })
		.y(function(d) { return y(d[1]); });

	var lines = g.append('g').attr('clip-path', 'url(#clip-' + i + ')');
	p.series.forEach(function(s, k)
	{
		if(!s) return;
		lines.append('path')
			.datum(s)
			.attr('d', line)
			.attr('fill', 'none')
			.attr('stroke', YEAR_COLORS[k])
			.attr('stroke-width', 2.6)
			.attr('stroke-linejoin', 'round');
	});

	// frame
	g.append('rect')
		.attr('x', x0).attr('y', y0).attr('width', w).attr('height', h)
		.attr('fill', 'none').attr('stroke', '#111').attr('stroke-width', 2.6);

	// panel label
	var lab = g.append('text')
		.attr('x', x0 + 12).attr('y', y1 - 11)
		.attr('font-size', 21).attr('fill', '#111');
	lab.append('tspan').attr('font-weight', 'bold').text(p.letter + '.');
	lab.append('tspan').text(' ' + p.name);
});

// column titles
COL_TITLES.forEach(function(t, c)
{
	svg.append('text')
		.attr('x', TITLE_X[c]).attr('y', 35)
		.attr('text-anchor', 'middle').attr('font-size', 29).attr('fill', '#111')
		.text(t);
});

// y axis title
var yt = svg.append('text')
	.attr('transform', 'translate(34,518) rotate(-90)')
	.attr('text-anchor', 'middle').attr('font-size', 23.5).attr('fill', '#111');
yt.append('tspan').text('Received Level (dB re 1 \u03bcPa');
yt.append('tspan').attr('font-size', 15).attr('dy', -9).text('2');
yt.append('tspan').attr('dy', 9).text(' / Hz)');

// legends
function draw_legend(lx, ly)
{
	var lg = svg.append('g').attr('transform', 'translate(' + lx + ',' + ly + ')');
	lg.append('rect').attr('x', 2).attr('y', 2).attr('width', 228).attr('height', 92).attr('fill', '#222');
	lg.append('rect').attr('width', 228).attr('height', 92)
		.attr('fill', '#fff').attr('stroke', '#111').attr('stroke-width', 2);

	YEARS.forEach(function(yr, k)
	{
		var col = Math.floor(k / 3), row = k % 3;
		var ox = col == 0 ? 13 : 124;
		var oy = 22 + row * 26.3;
		lg.append('line')
			.attr('x1', ox).attr('x2', ox + 32).attr('y1', oy).attr('y2', oy)
			.attr('stroke', YEAR_COLORS[k]).attr('stroke-width', 3.6);
		lg.append('text')
			.attr('x', ox + 40).attr('y', oy + 7.5)
			.attr('font-size', 21).attr('fill', '#111')
			.text(yr);
	});
}

draw_legend(427, 315);
draw_legend(1320, 403);
</script>
</body>
</html>
